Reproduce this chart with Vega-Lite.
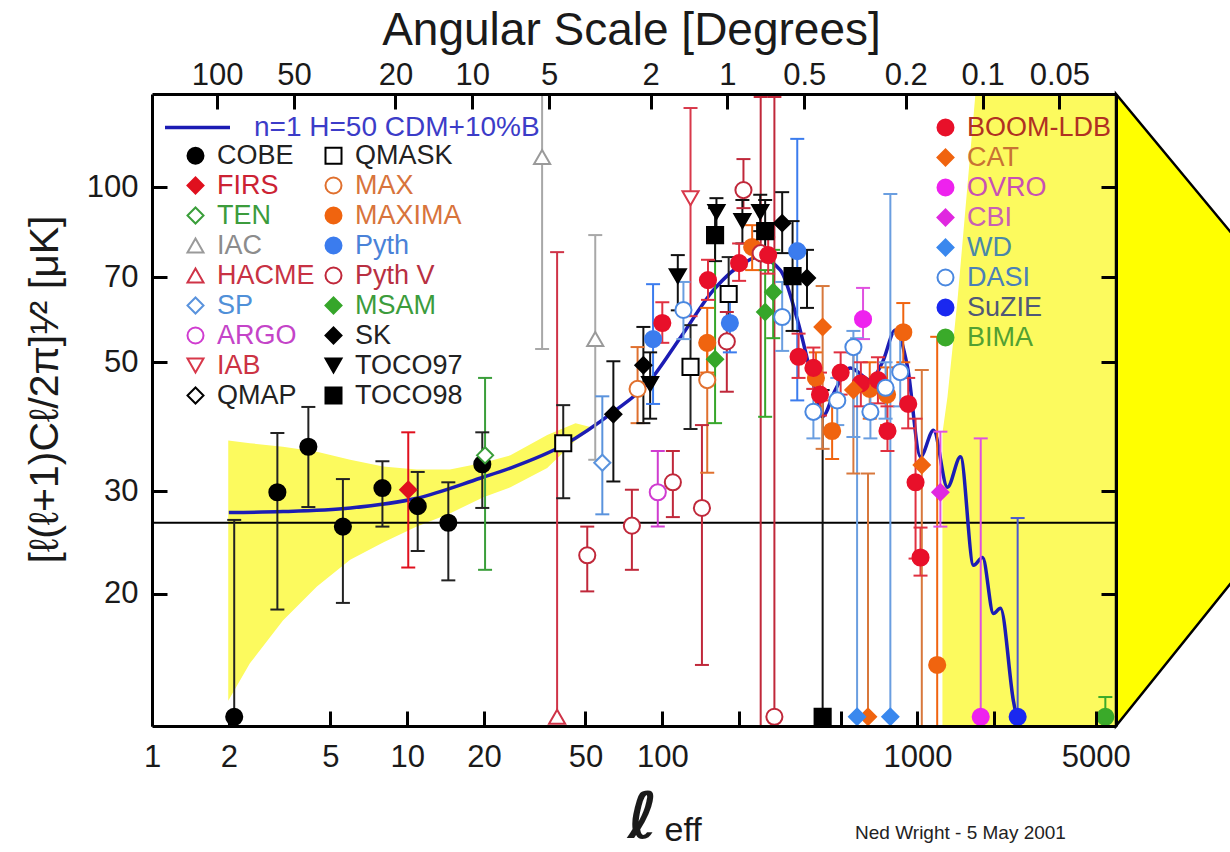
{
  "$schema": "https://vega.github.io/schema/vega-lite/v6.json",
  "width": 964,
  "height": 632,
  "autosize": {"type": "none"},
  "padding": {"left": 152, "top": 94, "right": 114, "bottom": 126},
  "background": "white",
  "config": {
    "view": {"stroke": null},
    "font": "Liberation Sans",
    "axis": {"grid": false, "labelFont": "Liberation Sans", "titleFont": "Liberation Sans", "labelColor": "#1a1a1a", "titleColor": "#1a1a1a", "tickColor": "black", "domainColor": "black"},
    "legend": {"padding": 0, "labelFont": "Liberation Sans"}
  },
  "datasets": {
    "rightband": [
      {"v": 11, "l": 1253}, {"v": 37.8, "l": 1253}, {"v": 43.6, "l": 1311}, {"v": 63.9, "l": 1435}, {"v": 150, "l": 1700}
    ],
    "band": [
      {"l": 1.99, "lo": 13.1, "hi": 36.7}, {"l": 2.42, "lo": 15.2, "hi": 36.3}, {"l": 3.26, "lo": 18.0, "hi": 35.8},
      {"l": 4.43, "lo": 20.6, "hi": 35.1}, {"l": 5.98, "lo": 22.9, "hi": 34.0}, {"l": 8.05, "lo": 24.5, "hi": 33.1},
      {"l": 10.9, "lo": 26.1, "hi": 32.7}, {"l": 14.7, "lo": 27.5, "hi": 32.7}, {"l": 19.9, "lo": 29.3, "hi": 33.6},
      {"l": 25.4, "lo": 30.5, "hi": 34.6}, {"l": 35.4, "lo": 32.9, "hi": 37.5}, {"l": 45.7, "lo": 36.7, "hi": 39.3},
      {"l": 52.3, "lo": 38.3, "hi": 38.7}
    ],
    "arrow": [
      {"l": 6000, "lo": 11.86, "hi": 144.5}, {"l": 41700, "lo": 34.1, "hi": 51.9}
    ],
    "model": [
      {"l": 2, "v": 27.6}, {"l": 3.26, "v": 27.7}, {"l": 6, "v": 28.1}, {"l": 10.9, "v": 29.2}, {"l": 19.3, "v": 31.6},
      {"l": 25.4, "v": 32.9}, {"l": 40.9, "v": 36.0}, {"l": 64.3, "v": 41.1}, {"l": 87.3, "v": 45.9}, {"l": 118, "v": 55.2},
      {"l": 158.6, "v": 66.5}, {"l": 215, "v": 74.6}, {"l": 236, "v": 75.8}, {"l": 290, "v": 72.0}, {"l": 338, "v": 59.3},
      {"l": 391, "v": 45.9}, {"l": 424, "v": 40.3}, {"l": 476, "v": 44.8}, {"l": 546, "v": 48.9}, {"l": 654, "v": 46.6},
      {"l": 729, "v": 50.0}, {"l": 820, "v": 56.8}, {"l": 914, "v": 49.1}, {"l": 1028, "v": 34.4}, {"l": 1156, "v": 38.2},
      {"l": 1311, "v": 30.5}, {"l": 1475, "v": 34.4}, {"l": 1659, "v": 22.4}, {"l": 1800, "v": 23.1}, {"l": 1986, "v": 18.5},
      {"l": 2115, "v": 18.9}, {"l": 2377, "v": 13.1}, {"l": 2600, "v": 11.0}
    ],
    "A": [
      {"exp": "COBE", "l": 2.1, "v": 12.3, "lo": 12.3, "hi": 26.8},
      {"exp": "COBE", "l": 3.1, "v": 29.9, "lo": 18.8, "hi": 37.8},
      {"exp": "COBE", "l": 4.1, "v": 35.8, "lo": 28.2, "hi": 41.9},
      {"exp": "COBE", "l": 5.6, "v": 26.1, "lo": 19.3, "hi": 31.5},
      {"exp": "COBE", "l": 8.0, "v": 30.4, "lo": 26.1, "hi": 33.8},
      {"exp": "COBE", "l": 11.0, "v": 28.3, "lo": 23.7, "hi": 32.4},
      {"exp": "COBE", "l": 14.5, "v": 26.5, "lo": 21.1, "hi": 31.1},
      {"exp": "COBE", "l": 19.7, "v": 33.4, "lo": 28.1, "hi": 37.9},
      {"exp": "FIRS", "l": 10.1, "v": 30.2, "lo": 22.2, "hi": 37.9},
      {"exp": "TEN", "l": 20.2, "v": 34.6, "lo": 22.0, "hi": 47.0},
      {"exp": "IAC", "l": 33.8, "v": 112.6, "lo": 52.7, "hi": 200},
      {"exp": "IAC", "l": 54.6, "v": 54.8, "lo": 34, "hi": 82.7},
      {"exp": "HACME", "l": 38.7, "v": 12.3, "lo": 12.3, "hi": 77.3},
      {"exp": "SP", "l": 58.2, "v": 33.6, "lo": 27.4, "hi": 43.7},
      {"exp": "ARGO", "l": 96, "v": 29.9, "lo": 26.1, "hi": 35.2},
      {"exp": "IAB", "l": 129, "v": 95.7, "lo": 60, "hi": 136.7},
      {"exp": "QMASK", "l": 40.9, "v": 36.3, "lo": 29.2, "hi": 42.2},
      {"exp": "QMASK", "l": 129, "v": 49.1, "lo": 38.4, "hi": 57.9},
      {"exp": "QMASK", "l": 182, "v": 65.5, "lo": 58.4, "hi": 75.8},
      {"exp": "MAX", "l": 80, "v": 45, "lo": 39.3, "hi": 53.1},
      {"exp": "MAX", "l": 150, "v": 46.6, "lo": 32.3, "hi": 55},
      {"exp": "MAXIMA", "l": 150, "v": 54.0, "lo": 48, "hi": 62},
      {"exp": "MAXIMA", "l": 225, "v": 78.9, "lo": 72, "hi": 86},
      {"exp": "MAXIMA", "l": 400, "v": 47, "lo": 42, "hi": 52},
      {"exp": "MAXIMA", "l": 463, "v": 38.1, "lo": 34.1, "hi": 43.0},
      {"exp": "MAXIMA", "l": 650, "v": 45, "lo": 40, "hi": 50},
      {"exp": "MAXIMA", "l": 760, "v": 44, "lo": 39, "hi": 49},
      {"exp": "MAXIMA", "l": 880, "v": 56.3, "lo": 50, "hi": 63.2},
      {"exp": "MAXIMA", "l": 1195, "v": 15.1, "lo": 11, "hi": 55.3},
      {"exp": "Pyth", "l": 92, "v": 54.8, "lo": 42.4, "hi": 68.1},
      {"exp": "Pyth", "l": 184, "v": 58.4, "lo": 52, "hi": 65},
      {"exp": "Pyth", "l": 338, "v": 77.6, "lo": 43, "hi": 121},
      {"exp": "Pyth V", "l": 50.8, "v": 23.3, "lo": 20.2, "hi": 26.1},
      {"exp": "Pyth V", "l": 76, "v": 26.2, "lo": 22.0, "hi": 30.2},
      {"exp": "Pyth V", "l": 110, "v": 31.1, "lo": 27.1, "hi": 35.2},
      {"exp": "Pyth V", "l": 143, "v": 28.1, "lo": 15.1, "hi": 39.0},
      {"exp": "Pyth V", "l": 179, "v": 54.3, "lo": 44.5, "hi": 61},
      {"exp": "Pyth V", "l": 208, "v": 98.8, "lo": 92, "hi": 111.7},
      {"exp": "Pyth V", "l": 243, "v": 77, "lo": 11, "hi": 142.8},
      {"exp": "Pyth V", "l": 275, "v": 12.3, "lo": 12.3, "hi": 142.8},
      {"exp": "MSAM", "l": 161, "v": 50.6, "lo": 39.3, "hi": 83.3},
      {"exp": "MSAM", "l": 253, "v": 61.0, "lo": 40.3, "hi": 72},
      {"exp": "MSAM", "l": 272, "v": 66.0, "lo": 55, "hi": 78},
      {"exp": "SK", "l": 64.3, "v": 40.7, "lo": 31.2, "hi": 50.2},
      {"exp": "SK", "l": 84.3, "v": 49.4, "lo": 39.3, "hi": 57.5},
      {"exp": "SK", "l": 295, "v": 86.7, "lo": 77, "hi": 98},
      {"exp": "SK", "l": 369, "v": 69.8, "lo": 62, "hi": 78},
      {"exp": "TOCO97", "l": 89.6, "v": 45.9, "lo": 40, "hi": 52},
      {"exp": "TOCO97", "l": 115, "v": 70.3, "lo": 61.4, "hi": 76.4},
      {"exp": "TOCO97", "l": 163, "v": 90.6, "lo": 84.7, "hi": 95.7},
      {"exp": "TOCO97", "l": 206, "v": 87.4, "lo": 80, "hi": 95},
      {"exp": "TOCO97", "l": 242, "v": 90.6, "lo": 84, "hi": 97},
      {"exp": "TOCO98", "l": 161, "v": 82.7, "lo": 74.6, "hi": 92},
      {"exp": "TOCO98", "l": 253, "v": 84.0, "lo": 74.6, "hi": 95},
      {"exp": "TOCO98", "l": 324, "v": 70.3, "lo": 56.6, "hi": 87.4},
      {"exp": "TOCO98", "l": 425, "v": 12.3, "lo": 12.3, "hi": 44.8}
    ],
    "B": [
      {"exp": "BOOM-LDB", "l": 100, "v": 58.4, "lo": 54, "hi": 63.4},
      {"exp": "BOOM-LDB", "l": 151, "v": 69.2, "lo": 64, "hi": 75},
      {"exp": "BOOM-LDB", "l": 200, "v": 74, "lo": 69, "hi": 80},
      {"exp": "BOOM-LDB", "l": 260, "v": 76.4, "lo": 71, "hi": 82},
      {"exp": "BOOM-LDB", "l": 342, "v": 51.1, "lo": 47, "hi": 56},
      {"exp": "BOOM-LDB", "l": 391, "v": 48.9, "lo": 45, "hi": 53},
      {"exp": "BOOM-LDB", "l": 415, "v": 44, "lo": 40.5, "hi": 48},
      {"exp": "BOOM-LDB", "l": 500, "v": 48, "lo": 44, "hi": 52},
      {"exp": "BOOM-LDB", "l": 600, "v": 46, "lo": 42, "hi": 50},
      {"exp": "BOOM-LDB", "l": 700, "v": 46.6, "lo": 42.5, "hi": 51},
      {"exp": "BOOM-LDB", "l": 763, "v": 38.1, "lo": 35.2, "hi": 42},
      {"exp": "BOOM-LDB", "l": 920, "v": 42.4, "lo": 38.5, "hi": 47},
      {"exp": "BOOM-LDB", "l": 983, "v": 31.1, "lo": 23, "hi": 40},
      {"exp": "BOOM-LDB", "l": 1028, "v": 23.1, "lo": 21.5, "hi": 26},
      {"exp": "CAT", "l": 425, "v": 57.5, "lo": 35.5, "hi": 67.6},
      {"exp": "CAT", "l": 561, "v": 44.8, "lo": 32.2, "hi": 52},
      {"exp": "CAT", "l": 640, "v": 12.3, "lo": 12.3, "hi": 32.2},
      {"exp": "CAT", "l": 1040, "v": 33.3, "lo": 11, "hi": 48.5},
      {"exp": "OVRO", "l": 612, "v": 59.3, "lo": 54.8, "hi": 67.1},
      {"exp": "OVRO", "l": 1770, "v": 12.3, "lo": 12.3, "hi": 37.0},
      {"exp": "CBI", "l": 1230, "v": 29.9, "lo": 26.1, "hi": 38.0},
      {"exp": "WD", "l": 580, "v": 12.3, "lo": 12.3, "hi": 55},
      {"exp": "WD", "l": 783, "v": 12.3, "lo": 12.3, "hi": 97.3},
      {"exp": "DASI", "l": 121, "v": 61.5, "lo": 54.8, "hi": 68.7},
      {"exp": "DASI", "l": 295, "v": 59.8, "lo": 52.3, "hi": 68.7},
      {"exp": "DASI", "l": 391, "v": 41.1, "lo": 37, "hi": 45},
      {"exp": "DASI", "l": 485, "v": 43.0, "lo": 39, "hi": 47},
      {"exp": "DASI", "l": 561, "v": 53.1, "lo": 37.2, "hi": 56.6},
      {"exp": "DASI", "l": 654, "v": 41.1, "lo": 37, "hi": 45.5},
      {"exp": "DASI", "l": 750, "v": 45.2, "lo": 40, "hi": 50},
      {"exp": "DASI", "l": 856, "v": 48.1, "lo": 42, "hi": 56},
      {"exp": "SuZIE", "l": 2470, "v": 12.3, "lo": 12.3, "hi": 27.0},
      {"exp": "BIMA", "l": 5450, "v": 12.3, "lo": 12.3, "hi": 13.3}
    ]
  },
  "resolve": {"scale": {"x": "independent", "y": "independent", "color": "independent", "fill": "independent", "stroke": "independent", "shape": "independent"}},
  "layer": [
    {
      "data": {"name": "rightband"},
      "mark": {"type": "area", "orient": "horizontal", "color": "#fcfa5e", "opacity": 1, "clip": true},
      "encoding": {
        "y": {"field": "v", "type": "quantitative", "scale": {"type": "log", "domain": [11.86, 144.5], "nice": false}, "axis": null},
        "x": {"field": "l", "type": "quantitative", "scale": {"type": "log", "domain": [1, 6000], "nice": false},
          "axis": {"orient": "bottom", "domain": false, "ticks": false, "labels": false, "title": "Ned Wright - 5 May 2001", "titleFontSize": 19, "titleFontWeight": "normal", "titleX": 808, "titleY": 112, "titleAlign": "center", "titleBaseline": "alphabetic", "titleColor": "#222222"}},
        "x2": {"datum": 6000}
      }
    },
    {
      "data": {"name": "band"},
      "mark": {"type": "area", "color": "#fcfa5e", "opacity": 1, "clip": true},
      "encoding": {
        "x": {"field": "l", "type": "quantitative", "scale": {"type": "log", "domain": [1, 6000], "nice": false},
          "axis": {"orient": "bottom", "domain": false, "ticks": false, "labels": false, "title": "eff", "titleFontSize": 34, "titleFontWeight": "normal", "titleX": 512, "titleY": 114, "titleAlign": "left", "titleBaseline": "alphabetic"}},
        "y": {"field": "lo", "type": "quantitative", "scale": {"type": "log", "domain": [11.86, 144.5], "nice": false}, "axis": null},
        "y2": {"field": "hi"}
      }
    },
    {
      "data": {"name": "arrow"},
      "mark": {"type": "area", "fill": "#ffff00", "fillOpacity": 1, "stroke": "black", "strokeWidth": 2.5, "clip": false},
      "encoding": {
        "x": {"field": "l", "type": "quantitative", "scale": {"type": "log", "domain": [1, 6000], "nice": false}, "axis": null},
        "y": {"field": "lo", "type": "quantitative", "scale": {"type": "log", "domain": [11.86, 144.5], "nice": false}, "axis": null},
        "y2": {"field": "hi"}
      }
    },
    {
      "data": {"values": [{}]},
      "mark": {"type": "rule", "color": "black", "strokeWidth": 2},
      "encoding": {
        "y": {"datum": 26.5, "type": "quantitative", "scale": {"type": "log", "domain": [11.86, 144.5], "nice": false}, "axis": null}
      }
    },
    {
      "data": {"name": "model"},
      "mark": {"type": "line", "strokeWidth": 3.5, "interpolate": "monotone", "clip": true},
      "encoding": {
        "x": {"field": "l", "type": "quantitative", "scale": {"type": "log", "domain": [1, 6000], "nice": false},
          "axis": {"orient": "top", "values": [1.8, 3.6, 9, 18, 36, 90, 180, 360, 900, 1800, 3600], "labelExpr": "format(180/datum.value, '.2~r')", "labelFontSize": 31, "labelPadding": 18, "labelFlush": false, "labelOverlap": false, "labelBound": false, "tickSize": -15, "tickWidth": 3, "domain": true, "domainWidth": 3, "zindex": 2, "title": "Angular Scale [Degrees]", "titleFontSize": 46, "titleFontWeight": "normal", "titleX": 479, "titleY": -50, "titleAlign": "center", "titleBaseline": "alphabetic"}},
        "y": {"field": "v", "type": "quantitative", "scale": {"type": "log", "domain": [11.86, 144.5], "nice": false}, "axis": null},
        "stroke": {"datum": "n=1 H=50 CDM+10%B", "type": "nominal", "scale": {"range": ["#1c1cb4"]},
          "legend": {"title": null, "orient": "none", "legendX": 11, "legendY": -1, "symbolType": "stroke", "symbolSize": 4225, "symbolStrokeWidth": 3.5, "labelFontSize": 28, "labelOffset": 22, "labelColor": "#3c3cc8", "labelLimit": 600}}
      }
    },
    {
      "data": {"name": "A"},
      "mark": {"type": "rule", "strokeWidth": 2, "clip": true},
      "encoding": {
        "x": {"field": "l", "type": "quantitative", "scale": {"type": "log", "domain": [1, 6000], "nice": false}, "axis": null},
        "y": {"field": "lo", "type": "quantitative", "scale": {"type": "log", "domain": [11.86, 144.5], "nice": false}, "axis": null},
        "y2": {"field": "hi"},
        "color": {"field": "exp", "type": "nominal", "legend": null, "scale": {"domain": ["COBE","FIRS","TEN","IAC","HACME","SP","ARGO","IAB","QMAP","QMASK","MAX","MAXIMA","Pyth","Pyth V","MSAM","SK","TOCO97","TOCO98"], "range": ["#222222","#e0101e","#3a9e3a","#a8a8a8","#cf3347","#5a93dd","#d03cd0","#d8384a","#111111","#222222","#e0702e","#f0640f","#3b7cee","#c0283a","#36a62a","#111111","#111111","#111111"]}}
      }
    },
    {
      "data": {"name": "A"},
      "mark": {"type": "tick", "orient": "horizontal", "size": 14, "thickness": 2, "opacity": 1, "clip": true},
      "encoding": {
        "x": {"field": "l", "type": "quantitative", "scale": {"type": "log", "domain": [1, 6000], "nice": false}, "axis": null},
        "y": {"field": "hi", "type": "quantitative", "scale": {"type": "log", "domain": [11.86, 144.5], "nice": false}, "axis": null},
        "color": {"field": "exp", "type": "nominal", "legend": null, "scale": {"domain": ["COBE","FIRS","TEN","IAC","HACME","SP","ARGO","IAB","QMAP","QMASK","MAX","MAXIMA","Pyth","Pyth V","MSAM","SK","TOCO97","TOCO98"], "range": ["#222222","#e0101e","#3a9e3a","#a8a8a8","#cf3347","#5a93dd","#d03cd0","#d8384a","#111111","#222222","#e0702e","#f0640f","#3b7cee","#c0283a","#36a62a","#111111","#111111","#111111"]}}
      }
    },
    {
      "data": {"name": "A"},
      "transform": [{"filter": "datum.lo < datum.v"}],
      "mark": {"type": "tick", "orient": "horizontal", "size": 14, "thickness": 2, "opacity": 1, "clip": true},
      "encoding": {
        "x": {"field": "l", "type": "quantitative", "scale": {"type": "log", "domain": [1, 6000], "nice": false}, "axis": null},
        "y": {"field": "lo", "type": "quantitative", "scale": {"type": "log", "domain": [11.86, 144.5], "nice": false}, "axis": null},
        "color": {"field": "exp", "type": "nominal", "legend": null, "scale": {"domain": ["COBE","FIRS","TEN","IAC","HACME","SP","ARGO","IAB","QMAP","QMASK","MAX","MAXIMA","Pyth","Pyth V","MSAM","SK","TOCO97","TOCO98"], "range": ["#222222","#e0101e","#3a9e3a","#a8a8a8","#cf3347","#5a93dd","#d03cd0","#d8384a","#111111","#222222","#e0702e","#f0640f","#3b7cee","#c0283a","#36a62a","#111111","#111111","#111111"]}}
      }
    },
    {
      "data": {"name": "B"},
      "mark": {"type": "rule", "strokeWidth": 2, "clip": true},
      "encoding": {
        "x": {"field": "l", "type": "quantitative", "scale": {"type": "log", "domain": [1, 6000], "nice": false}, "axis": null},
        "y": {"field": "lo", "type": "quantitative", "scale": {"type": "log", "domain": [11.86, 144.5], "nice": false}, "axis": null},
        "y2": {"field": "hi"},
        "color": {"field": "exp", "type": "nominal", "legend": null, "scale": {"domain": ["BOOM-LDB","CAT","OVRO","CBI","WD","DASI","SuZIE","BIMA"], "range": ["#e03040","#d8783c","#e050e0","#e050e0","#6a9ee0","#6a9ee0","#4a58d0","#3aaa2a"]}}
      }
    },
    {
      "data": {"name": "B"},
      "mark": {"type": "tick", "orient": "horizontal", "size": 14, "thickness": 2, "opacity": 1, "clip": true},
      "encoding": {
        "x": {"field": "l", "type": "quantitative", "scale": {"type": "log", "domain": [1, 6000], "nice": false}, "axis": null},
        "y": {"field": "hi", "type": "quantitative", "scale": {"type": "log", "domain": [11.86, 144.5], "nice": false}, "axis": null},
        "color": {"field": "exp", "type": "nominal", "legend": null, "scale": {"domain": ["BOOM-LDB","CAT","OVRO","CBI","WD","DASI","SuZIE","BIMA"], "range": ["#e03040","#d8783c","#e050e0","#e050e0","#6a9ee0","#6a9ee0","#4a58d0","#3aaa2a"]}}
      }
    },
    {
      "data": {"name": "B"},
      "transform": [{"filter": "datum.lo < datum.v"}],
      "mark": {"type": "tick", "orient": "horizontal", "size": 14, "thickness": 2, "opacity": 1, "clip": true},
      "encoding": {
        "x": {"field": "l", "type": "quantitative", "scale": {"type": "log", "domain": [1, 6000], "nice": false}, "axis": null},
        "y": {"field": "lo", "type": "quantitative", "scale": {"type": "log", "domain": [11.86, 144.5], "nice": false}, "axis": null},
        "color": {"field": "exp", "type": "nominal", "legend": null, "scale": {"domain": ["BOOM-LDB","CAT","OVRO","CBI","WD","DASI","SuZIE","BIMA"], "range": ["#e03040","#d8783c","#e050e0","#e050e0","#6a9ee0","#6a9ee0","#4a58d0","#3aaa2a"]}}
      }
    },
    {
      "data": {"name": "A"},
      "mark": {"type": "point", "filled": true, "size": 260, "strokeWidth": 2, "opacity": 1, "clip": true},
      "encoding": {
        "x": {"field": "l", "type": "quantitative", "scale": {"type": "log", "domain": [1, 6000], "nice": false},
          "axis": {"orient": "bottom", "values": [1, 2, 5, 10, 20, 50, 100, 200, 500, 1000, 2000, 5000], "format": "d", "labelExpr": "indexof([200,500,2000], datum.value) >= 0 ? '' : datum.label", "labelFontSize": 31, "labelPadding": 31, "labelFlush": false, "labelOverlap": false, "labelBound": false, "tickSize": -15, "tickWidth": 3, "domain": true, "domainWidth": 3, "zindex": 2, "title": "ℓ", "titleFont": "DejaVu Sans", "titleFontSize": 64, "titleFontWeight": "bold", "titleX": 490, "titleY": 111, "titleAlign": "center", "titleBaseline": "alphabetic"}},
        "y": {"field": "v", "type": "quantitative", "scale": {"type": "log", "domain": [11.86, 144.5], "nice": false},
          "axis": {"orient": "left", "values": [20, 30, 50, 70, 100], "format": "d", "labelFontSize": 31, "labelPadding": 29, "labelOverlap": false, "tickSize": -15, "tickWidth": 3, "domain": true, "domainWidth": 3, "zindex": 2, "title": "[ℓ(ℓ+1)Cℓ/2π]¹⁄² [μK]", "titleFontSize": 41, "titleFontWeight": "normal", "titleAngle": -90, "titleX": -107, "titleY": 295, "titleAlign": "center", "titleBaseline": "middle"}},
        "shape": {"field": "exp", "type": "nominal",
          "scale": {"domain": ["COBE","FIRS","TEN","IAC","HACME","SP","ARGO","IAB","QMAP","QMASK","MAX","MAXIMA","Pyth","Pyth V","MSAM","SK","TOCO97","TOCO98"], "range": ["circle","diamond","diamond","triangle-up","triangle-up","diamond","circle","triangle-down","diamond","square","circle","circle","circle","circle","diamond","diamond","triangle-down","square"]},
          "legend": {"title": null, "orient": "none", "legendX": 30, "legendY": 48, "columns": 2, "columnPadding": 5, "rowPadding": 2, "symbolSize": 256, "symbolStrokeWidth": 2, "symbolOpacity": 1, "labelFontSize": 27, "labelOffset": 8, "labelLimit": 400,
            "labelColor": {"expr": "['#222222','#cc2233','#3c9c3c','#8c8c8c','#c83244','#5090d8','#c444c8','#cc3344','#222222','#222222','#d8743c','#d8743c','#4a82d8','#b83042','#3c9c3c','#222222','#222222','#222222'][indexof(['COBE','FIRS','TEN','IAC','HACME','SP','ARGO','IAB','QMAP','QMASK','MAX','MAXIMA','Pyth','Pyth V','MSAM','SK','TOCO97','TOCO98'], datum.value)]"}}},
        "stroke": {"field": "exp", "type": "nominal",
          "scale": {"domain": ["COBE","FIRS","TEN","IAC","HACME","SP","ARGO","IAB","QMAP","QMASK","MAX","MAXIMA","Pyth","Pyth V","MSAM","SK","TOCO97","TOCO98"], "range": ["#000000","#e0101e","#3a9e3a","#9a9a9a","#cf3347","#5a93dd","#d03cd0","#d8384a","#000000","#000000","#e0702e","#f0640f","#3b7cee","#c0283a","#36a62a","#000000","#000000","#000000"]},
          "legend": {"title": null, "orient": "none", "legendX": 30, "legendY": 48, "columns": 2, "columnPadding": 5, "rowPadding": 2, "symbolSize": 256, "symbolStrokeWidth": 2, "symbolOpacity": 1, "labelFontSize": 27, "labelOffset": 8, "labelLimit": 400,
            "labelColor": {"expr": "['#222222','#cc2233','#3c9c3c','#8c8c8c','#c83244','#5090d8','#c444c8','#cc3344','#222222','#222222','#d8743c','#d8743c','#4a82d8','#b83042','#3c9c3c','#222222','#222222','#222222'][indexof(['COBE','FIRS','TEN','IAC','HACME','SP','ARGO','IAB','QMAP','QMASK','MAX','MAXIMA','Pyth','Pyth V','MSAM','SK','TOCO97','TOCO98'], datum.value)]"}}},
        "fill": {"field": "exp", "type": "nominal",
          "scale": {"domain": ["COBE","FIRS","TEN","IAC","HACME","SP","ARGO","IAB","QMAP","QMASK","MAX","MAXIMA","Pyth","Pyth V","MSAM","SK","TOCO97","TOCO98"], "range": ["#000000","#e0101e","#ffffff","#ffffff","#ffffff","#ffffff","#ffffff","#ffffff","#ffffff","#ffffff","#ffffff","#f0640f","#3b7cee","#ffffff","#36a62a","#000000","#000000","#000000"]},
          "legend": {"title": null, "orient": "none", "legendX": 30, "legendY": 48, "columns": 2, "columnPadding": 5, "rowPadding": 2, "symbolSize": 256, "symbolStrokeWidth": 2, "symbolOpacity": 1, "labelFontSize": 27, "labelOffset": 8, "labelLimit": 400,
            "labelColor": {"expr": "['#222222','#cc2233','#3c9c3c','#8c8c8c','#c83244','#5090d8','#c444c8','#cc3344','#222222','#222222','#d8743c','#d8743c','#4a82d8','#b83042','#3c9c3c','#222222','#222222','#222222'][indexof(['COBE','FIRS','TEN','IAC','HACME','SP','ARGO','IAB','QMAP','QMASK','MAX','MAXIMA','Pyth','Pyth V','MSAM','SK','TOCO97','TOCO98'], datum.value)]"}}}
      }
    },
    {
      "data": {"name": "B"},
      "mark": {"type": "point", "filled": true, "size": 260, "strokeWidth": 2, "opacity": 1, "clip": true},
      "encoding": {
        "x": {"field": "l", "type": "quantitative", "scale": {"type": "log", "domain": [1, 6000], "nice": false}, "axis": null},
        "y": {"field": "v", "type": "quantitative", "scale": {"type": "log", "domain": [11.86, 144.5], "nice": false},
          "axis": {"orient": "right", "values": [20, 30, 50, 70, 100], "labels": false, "tickSize": -15, "tickWidth": 3, "domain": true, "domainWidth": 3, "zindex": 2, "title": null}},
        "shape": {"field": "exp", "type": "nominal",
          "scale": {"domain": ["BOOM-LDB","CAT","OVRO","CBI","WD","DASI","SuZIE","BIMA"], "range": ["circle","diamond","circle","diamond","diamond","circle","circle","circle"]},
          "legend": {"title": null, "orient": "none", "legendX": 780, "legendY": 20, "rowPadding": 2, "symbolSize": 256, "symbolStrokeWidth": 2, "symbolOpacity": 1, "labelFontSize": 27, "labelOffset": 8, "labelLimit": 400,
            "labelColor": {"expr": "['#b03022','#c87234','#c850b4','#c860b4','#4a88a8','#4a80b8','#505878','#52a032'][indexof(['BOOM-LDB','CAT','OVRO','CBI','WD','DASI','SuZIE','BIMA'], datum.value)]"}}},
        "stroke": {"field": "exp", "type": "nominal",
          "scale": {"domain": ["BOOM-LDB","CAT","OVRO","CBI","WD","DASI","SuZIE","BIMA"], "range": ["#e8102a","#f0640f","#ee22ee","#e028e0","#3a88ee","#4a88e0","#1a28f0","#3aaa2a"]},
          "legend": {"title": null, "orient": "none", "legendX": 780, "legendY": 20, "rowPadding": 2, "symbolSize": 256, "symbolStrokeWidth": 2, "symbolOpacity": 1, "labelFontSize": 27, "labelOffset": 8, "labelLimit": 400,
            "labelColor": {"expr": "['#b03022','#c87234','#c850b4','#c860b4','#4a88a8','#4a80b8','#505878','#52a032'][indexof(['BOOM-LDB','CAT','OVRO','CBI','WD','DASI','SuZIE','BIMA'], datum.value)]"}}},
        "fill": {"field": "exp", "type": "nominal",
          "scale": {"domain": ["BOOM-LDB","CAT","OVRO","CBI","WD","DASI","SuZIE","BIMA"], "range": ["#e8102a","#f0640f","#ee22ee","#e028e0","#3a88ee","#ffffff","#1a28f0","#3aaa2a"]},
          "legend": {"title": null, "orient": "none", "legendX": 780, "legendY": 20, "rowPadding": 2, "symbolSize": 256, "symbolStrokeWidth": 2, "symbolOpacity": 1, "labelFontSize": 27, "labelOffset": 8, "labelLimit": 400,
            "labelColor": {"expr": "['#b03022','#c87234','#c850b4','#c860b4','#4a88a8','#4a80b8','#505878','#52a032'][indexof(['BOOM-LDB','CAT','OVRO','CBI','WD','DASI','SuZIE','BIMA'], datum.value)]"}}}
      }
    }
  ]
}
